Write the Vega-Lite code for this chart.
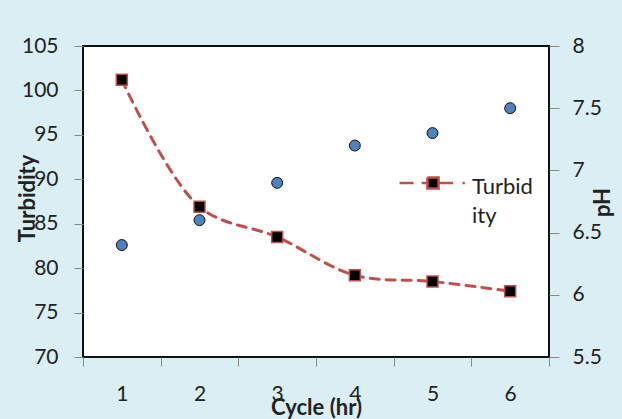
{
  "$schema": "https://vega.github.io/schema/vega-lite/v6.json",
  "width": 466,
  "height": 311,
  "autosize": "none",
  "padding": {"left": 83, "top": 46, "right": 73, "bottom": 62},
  "background": "#dbeef4",
  "config": {
    "font": "Lato",
    "view": {"fill": "white", "stroke": "#111", "strokeWidth": 2},
    "axis": {"grid": false, "domain": false, "tickColor": "#888", "tickWidth": 1, "labelFont": "Lato", "labelFontSize": 21, "labelColor": "#222", "titleFont": "Lato", "titleFontSize": 22, "titleFontWeight": "bold", "titleColor": "#222"}
  },
  "data": {
    "values": [
      {"cycle": "1", "turbidity": 101.2, "ph": 6.4},
      {"cycle": "2", "turbidity": 86.9, "ph": 6.6},
      {"cycle": "3", "turbidity": 83.5, "ph": 6.9},
      {"cycle": "4", "turbidity": 79.2, "ph": 7.2},
      {"cycle": "5", "turbidity": 78.5, "ph": 7.3},
      {"cycle": "6", "turbidity": 77.4, "ph": 7.5}
    ]
  },
  "encoding": {
    "x": {
      "field": "cycle", "type": "ordinal",
      "scale": {"type": "band", "paddingInner": 0, "paddingOuter": 0},
      "axis": {"title": "Cycle (hr)", "labelAngle": 0, "tickBand": "extent", "tickSize": 9, "labelPadding": 17, "titleX": 233, "titleY": 50, "titleBaseline": "middle", "titleAlign": "center"}
    }
  },
  "layer": [
    {
      "encoding": {
        "y": {
          "field": "turbidity", "type": "quantitative",
          "scale": {"domain": [70, 105], "nice": false, "zero": false},
          "axis": {"title": "Turbidity", "orient": "left", "values": [70, 75, 80, 85, 90, 95, 100, 105], "tickSize": 9, "labelPadding": 16, "titleAngle": 270, "titleX": -56, "titleY": 152, "titleBaseline": "middle", "titleAlign": "center"}
        }
      },
      "layer": [
        {
          "mark": {"type": "line", "interpolate": "catmull-rom", "strokeWidth": 3, "strokeDash": [9, 7], "strokeCap": "round"},
          "encoding": {
            "stroke": {
              "datum": "Turbidity",
              "scale": {"domain": ["Turbidity"], "range": ["#c0504d"]},
              "legend": {
                "title": null,
                "orient": "none",
                "legendX": 315,
                "legendY": 102,
                "padding": 0,
                "symbolType": "M-1,0H-0.58M-0.34,0H-0.18M-0.167,-0.167H0.167V0.167H-0.167ZM0.18,0H0.6M0.88,0H0.95",
                "symbolSize": 4489,
                "symbolStrokeWidth": 2.5,
                "labelOffset": 4,
                "labelFont": "Lato",
                "labelFontSize": 22,
                "labelColor": "#222",
                "labelLimit": 200,
                "labelExpr": "['Turbid', 'ity']",
                "encode": {
                  "symbols": {"update": {"fill": {"value": "black"}, "stroke": {"value": "#c0504d"}, "strokeDash": {"value": [100, 0]}, "strokeWidth": {"value": 2.5}, "opacity": {"value": 1}}},
                  "labels": {"update": {"lineHeight": {"value": 29}, "dy": {"value": 4}}}
                }
              }
            }
          }
        },
        {
          "mark": {"type": "point", "shape": "square", "filled": true, "fill": "black", "stroke": "#c0504d", "strokeWidth": 1.5, "size": 121, "opacity": 1}
        }
      ]
    },
    {
      "mark": {"type": "point", "shape": "circle", "filled": true, "fill": "#4f81bd", "stroke": "#111", "strokeWidth": 1, "size": 120, "opacity": 1},
      "encoding": {
        "y": {
          "field": "ph", "type": "quantitative",
          "scale": {"domain": [5.5, 8], "nice": false, "zero": false},
          "axis": {"title": "pH", "orient": "right", "values": [5.5, 6, 6.5, 7, 7.5, 8], "format": "~g", "tickSize": 10, "labelPadding": 13, "titleAngle": 270, "titleX": 53, "titleY": 156, "titleBaseline": "middle", "titleAlign": "center"}
        }
      }
    }
  ],
  "resolve": {"scale": {"y": "independent"}}
}
